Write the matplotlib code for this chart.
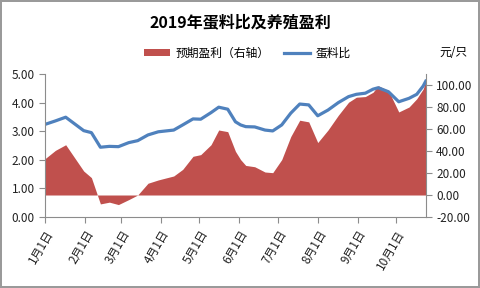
import pandas as pd
import matplotlib
matplotlib.use('Agg')
import matplotlib.pyplot as plt
import matplotlib.dates as mdates
from matplotlib.patches import Patch
from matplotlib.lines import Line2D

plt.rcParams['font.family'] = ['Noto Sans CJK SC', 'DejaVu Sans']

dates = ['2019-01-01', '2019-01-09', '2019-01-17', '2019-01-31', '2019-02-06', '2019-02-13',
         '2019-02-20', '2019-02-27', '2019-03-07', '2019-03-14', '2019-03-22', '2019-03-30',
         '2019-04-11', '2019-04-18', '2019-04-26', '2019-05-02', '2019-05-10', '2019-05-16',
         '2019-05-23', '2019-05-29', '2019-06-02', '2019-06-06', '2019-06-13', '2019-06-21',
         '2019-06-27', '2019-07-04', '2019-07-11', '2019-07-18', '2019-07-25', '2019-08-01',
         '2019-08-09', '2019-08-17', '2019-08-25', '2019-08-31', '2019-09-07', '2019-09-13',
         '2019-09-17', '2019-09-25', '2019-10-03', '2019-10-11', '2019-10-17', '2019-10-22',
         '2019-10-24']
egg_feed_ratio = [3.24, 3.36, 3.49, 3.02, 2.95, 2.44, 2.47, 2.46, 2.60, 2.67, 2.87, 2.98,
                  3.04, 3.22, 3.43, 3.42, 3.65, 3.84, 3.77, 3.33, 3.22, 3.16, 3.15, 3.04,
                  3.01, 3.22, 3.63, 3.95, 3.92, 3.54, 3.74, 4.00, 4.21, 4.29, 4.33, 4.47,
                  4.52, 4.38, 4.03, 4.15, 4.29, 4.58, 4.75]
profit = [33.1, 40.6, 45.7, 21.8, 15.8, -8.1, -6.5, -8.7, -4.2, 0.0, 10.7, 13.7,
          17.3, 23.3, 35.2, 36.7, 45.7, 59.1, 57.6, 39.7, 32.2, 26.9, 25.7, 20.9,
          20.3, 32.2, 53.1, 68.0, 66.5, 47.7, 59.1, 72.5, 84.4, 88.9, 89.5, 93.4,
          99.4, 94.9, 75.5, 80.0, 87.5, 96.4, 103.8]

left_ticks = [0, 1, 2, 3, 4, 5]
right_ticks = [-20, 0, 20, 40, 60, 80, 100]

x = pd.to_datetime(dates)
red = '#C0504D'
blue = '#4F81BD'
grey = '#8C8C8C'

fig = plt.figure(figsize=(4.8, 2.88), dpi=100)
fig.patch.set_edgecolor('#9A9A9A')
fig.patch.set_linewidth(1.5)
ax1 = fig.add_axes([0.094, 0.2465, 0.793, 0.4965])
ax2 = ax1.twinx()

ax2.fill_between(x, 0, profit, color=red, linewidth=0)
ax1.plot(x, egg_feed_ratio, color=blue, linewidth=2.3)
ax1.set_zorder(ax2.get_zorder() + 1)
ax1.patch.set_visible(False)

ax1.set_xlim(pd.Timestamp('2019-01-01'), pd.Timestamp('2019-10-24'))
ax1.set_ylim(0, 5)
ax2.set_ylim(-20, 110)
ax1.set_yticks(left_ticks)
ax1.set_yticklabels([f'{v:.2f}' for v in left_ticks])
ax2.set_yticks(right_ticks)
ax2.set_yticklabels([f'{v:.2f}' for v in right_ticks])

ax1.xaxis.set_major_locator(mdates.MonthLocator())
ax1.xaxis.set_major_formatter(plt.FuncFormatter(
    lambda v, p: f'{mdates.num2date(v).month}月1日'))
for lab in ax1.get_xticklabels():
    lab.set_rotation(60)
    lab.set_ha('right')
    lab.set_rotation_mode('anchor')

for ax in (ax1, ax2):
    ax.spines['top'].set_visible(False)
    for s in ('left', 'right', 'bottom'):
        ax.spines[s].set_color(grey)
    ax.tick_params(colors=grey, labelcolor='#222222', labelsize=8.5, length=4)
ax1.spines['right'].set_visible(False)
ax2.spines['left'].set_visible(False)
ax2.spines['bottom'].set_visible(False)

fig.text(0.5, 0.924, '2019年蛋料比及养殖盈利', ha='center', va='center',
         fontsize=11.5, fontweight='bold')
fig.text(0.945, 0.816, '元/只', ha='center', va='center', fontsize=8.5)

handles = [Patch(facecolor=red, edgecolor='none'),
           Line2D([0], [0], color=blue, linewidth=2.3)]
fig.legend(handles, ['预期盈利（右轴）', '蛋料比'], loc='center', ncol=2,
           bbox_to_anchor=(0.515, 0.816), frameon=False, fontsize=8.5,
           handlelength=2.2, handleheight=0.6, columnspacing=1.2, handletextpad=0.5)

fig.savefig('out.png', dpi=100)
